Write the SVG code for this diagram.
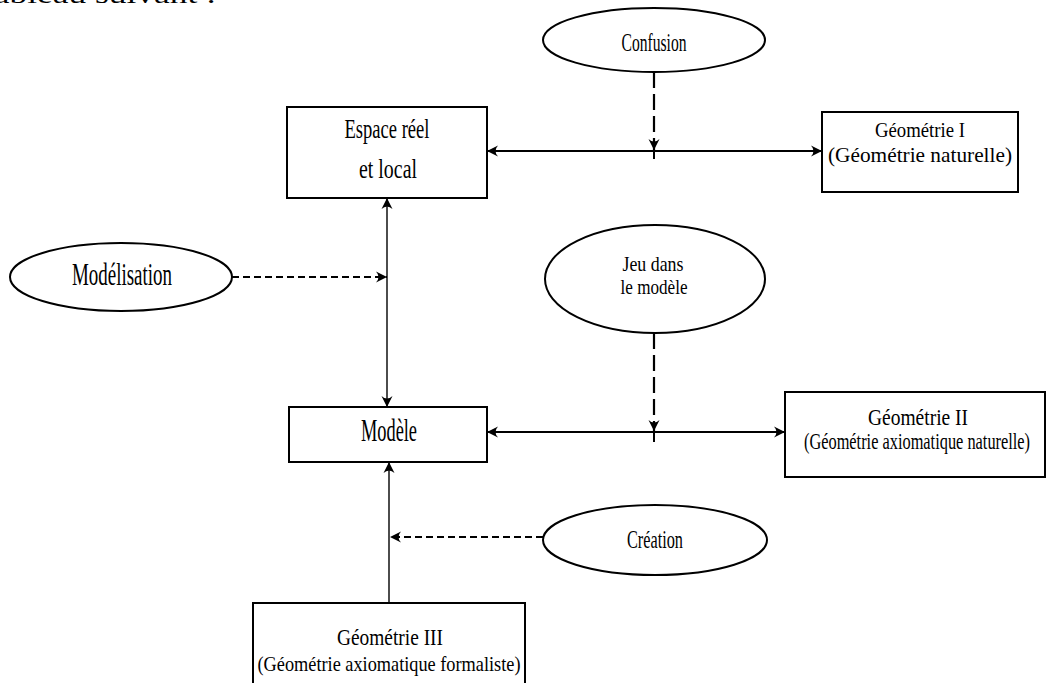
<svg xmlns="http://www.w3.org/2000/svg" width="1047" height="683" viewBox="0 0 1047 683">
<style>
.box{fill:#fff;stroke:#000;stroke-width:2}
.ell{fill:#fff;stroke:#000;stroke-width:2}
.t{font-family:"Liberation Serif","Times New Roman",serif;fill:#000;text-anchor:middle}
.solid{fill:none;stroke:#000;stroke-width:2}
.thin{fill:none;stroke:#000;stroke-width:1.4}
.dashh{fill:none;stroke:#000;stroke-width:2.2;stroke-dasharray:7 4}
.dashv{fill:none;stroke:#000;stroke-width:2.2;stroke-dasharray:16 6}
</style>
<defs>
<marker id="arr" viewBox="-12 -6 14 12" refX="0" refY="0" markerWidth="14" markerHeight="12" markerUnits="userSpaceOnUse" orient="auto-start-reverse">
<path d="M0,0 L-11,-5.5 Q-6,0 -11,5.5 Z" fill="#000"/>
</marker>
</defs>
<rect width="1047" height="683" fill="#fff"/>
<text class="t" x="100" y="3" font-size="26" textLength="232" lengthAdjust="spacingAndGlyphs">tableau suivant :</text>

<g id="connectors">
<line class="solid" x1="487" y1="151" x2="822" y2="151" marker-start="url(#arr)" marker-end="url(#arr)"/>
<line class="solid" x1="487" y1="432" x2="785" y2="432" marker-start="url(#arr)" marker-end="url(#arr)"/>
<line class="thin" x1="387" y1="198" x2="387" y2="407" marker-start="url(#arr)" marker-end="url(#arr)"/>
<line class="thin" x1="389" y1="603" x2="389" y2="462" marker-end="url(#arr)"/>
<line class="dashh" x1="232" y1="277" x2="387" y2="277" marker-end="url(#arr)"/>
<line class="dashh" x1="543" y1="537" x2="390" y2="537" marker-end="url(#arr)"/>
<line class="dashv" x1="654" y1="72" x2="654" y2="150" marker-end="url(#arr)"/>
<line class="solid" x1="654" y1="140" x2="654" y2="159"/>
<line class="dashv" x1="654" y1="333" x2="654" y2="431" marker-end="url(#arr)"/>
<line class="solid" x1="654" y1="421" x2="654" y2="442"/>
</g>

<g id="espace">
<rect class="box" x="287" y="107" width="200" height="91"/>
<text class="t" x="387" y="138" font-size="27" textLength="85" lengthAdjust="spacingAndGlyphs">Espace réel</text>
<text class="t" x="388" y="178" font-size="27" textLength="58" lengthAdjust="spacingAndGlyphs">et local</text>
</g>

<g id="geo1">
<rect class="box" x="822" y="112" width="196" height="80"/>
<text class="t" x="920" y="137" font-size="22" textLength="90" lengthAdjust="spacingAndGlyphs">Géométrie I</text>
<text class="t" x="920" y="162" font-size="22" textLength="184" lengthAdjust="spacingAndGlyphs">(Géométrie naturelle)</text>
</g>

<g id="confusion">
<ellipse class="ell" cx="654" cy="40" rx="111" ry="32"/>
<text class="t" x="654" y="51" font-size="25" textLength="65" lengthAdjust="spacingAndGlyphs">Confusion</text>
</g>

<g id="modelisation">
<ellipse class="ell" cx="121" cy="277" rx="111" ry="34"/>
<text class="t" x="122" y="285" font-size="31" textLength="100" lengthAdjust="spacingAndGlyphs">Modélisation</text>
</g>

<g id="jeu">
<ellipse class="ell" cx="655" cy="279" rx="110" ry="54"/>
<text class="t" x="653" y="271" font-size="22" textLength="61" lengthAdjust="spacingAndGlyphs">Jeu dans</text>
<text class="t" x="654" y="294" font-size="22" textLength="67" lengthAdjust="spacingAndGlyphs">le modèle</text>
</g>

<g id="modele">
<rect class="box" x="289" y="407" width="198" height="55"/>
<text class="t" x="389" y="441" font-size="31" textLength="56" lengthAdjust="spacingAndGlyphs">Modèle</text>
</g>

<g id="geo2">
<rect class="box" x="785" y="392" width="260" height="85"/>
<text class="t" transform="translate(918 425) scale(0.7 1)" x="0" y="0" font-size="24" textLength="143" lengthAdjust="spacingAndGlyphs">Géométrie II</text>
<text class="t" transform="translate(917 449) scale(0.7 1)" x="0" y="0" font-size="23" textLength="323" lengthAdjust="spacingAndGlyphs">(Géométrie axiomatique naturelle)</text>
</g>

<g id="creation">
<ellipse class="ell" cx="655" cy="540" rx="112" ry="35"/>
<text class="t" x="655" y="548" font-size="25" textLength="56" lengthAdjust="spacingAndGlyphs">Création</text>
</g>

<g id="geo3">
<rect class="box" x="253" y="603" width="272" height="90"/>
<text class="t" x="390" y="645" font-size="24" textLength="106" lengthAdjust="spacingAndGlyphs">Géométrie III</text>
<text class="t" x="389" y="671" font-size="22" textLength="263" lengthAdjust="spacingAndGlyphs">(Géométrie axiomatique formaliste)</text>
</g>
</svg>
